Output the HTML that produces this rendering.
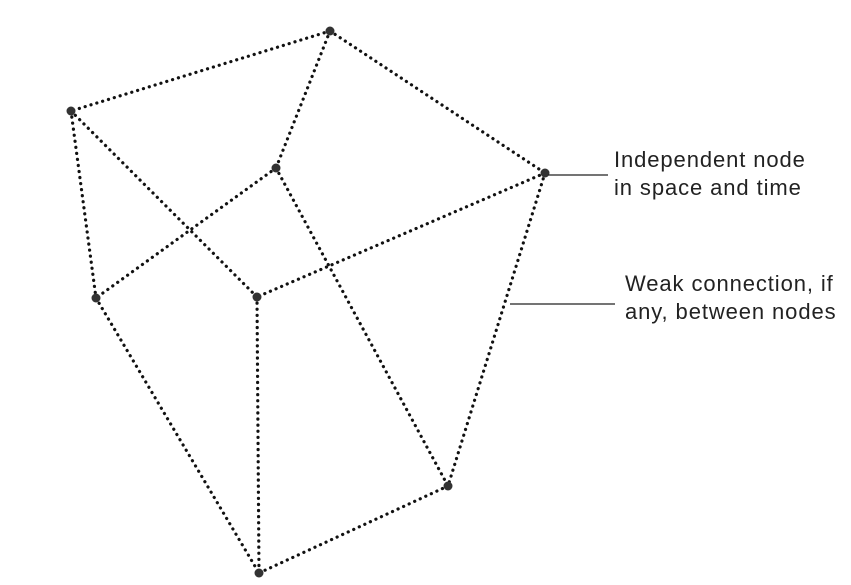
<!DOCTYPE html>
<html><head><meta charset="utf-8"><style>
html,body{margin:0;padding:0;background:#fff;width:851px;height:585px;overflow:hidden}
text{font-family:"Liberation Sans",sans-serif;font-size:22px;letter-spacing:0.9px;fill:#222}
</style></head><body>
<svg width="851" height="585" viewBox="0 0 851 585" xmlns="http://www.w3.org/2000/svg">
<g stroke="#111" stroke-width="3.2" stroke-dasharray="0.1 6" stroke-linecap="round" fill="none">
<line x1="330" y1="31" x2="71" y2="111"/>
<line x1="330" y1="31" x2="276" y2="168"/>
<line x1="330" y1="31" x2="545" y2="173"/>
<line x1="71" y1="111" x2="96" y2="298"/>
<line x1="71" y1="111" x2="257" y2="297"/>
<line x1="276" y1="168" x2="96" y2="298"/>
<line x1="276" y1="168" x2="448" y2="486"/>
<line x1="545" y1="173" x2="257" y2="297"/>
<line x1="545" y1="173" x2="448" y2="486"/>
<line x1="96" y1="298" x2="259" y2="573"/>
<line x1="257" y1="297" x2="259" y2="573"/>
<line x1="448" y1="486" x2="259" y2="573"/>
</g>
<g fill="#333">
<circle cx="330" cy="31" r="4.5"/><circle cx="71" cy="111" r="4.5"/><circle cx="276" cy="168" r="4.5"/>
<circle cx="545" cy="173" r="4.5"/><circle cx="96" cy="298" r="4.5"/><circle cx="257" cy="297" r="4.5"/>
<circle cx="448" cy="486" r="4.5"/><circle cx="259" cy="573" r="4.5"/>
</g>
<line x1="548" y1="175" x2="608" y2="175" stroke="#222" stroke-width="1.2"/>
<line x1="510" y1="304" x2="615" y2="304" stroke="#222" stroke-width="1.2"/>
<text x="614" y="167">Independent node</text>
<text x="614" y="195">in space and time</text>
<text x="625" y="291">Weak connection, if</text>
<text x="625" y="319">any, between nodes</text>
</svg>
</body></html>
